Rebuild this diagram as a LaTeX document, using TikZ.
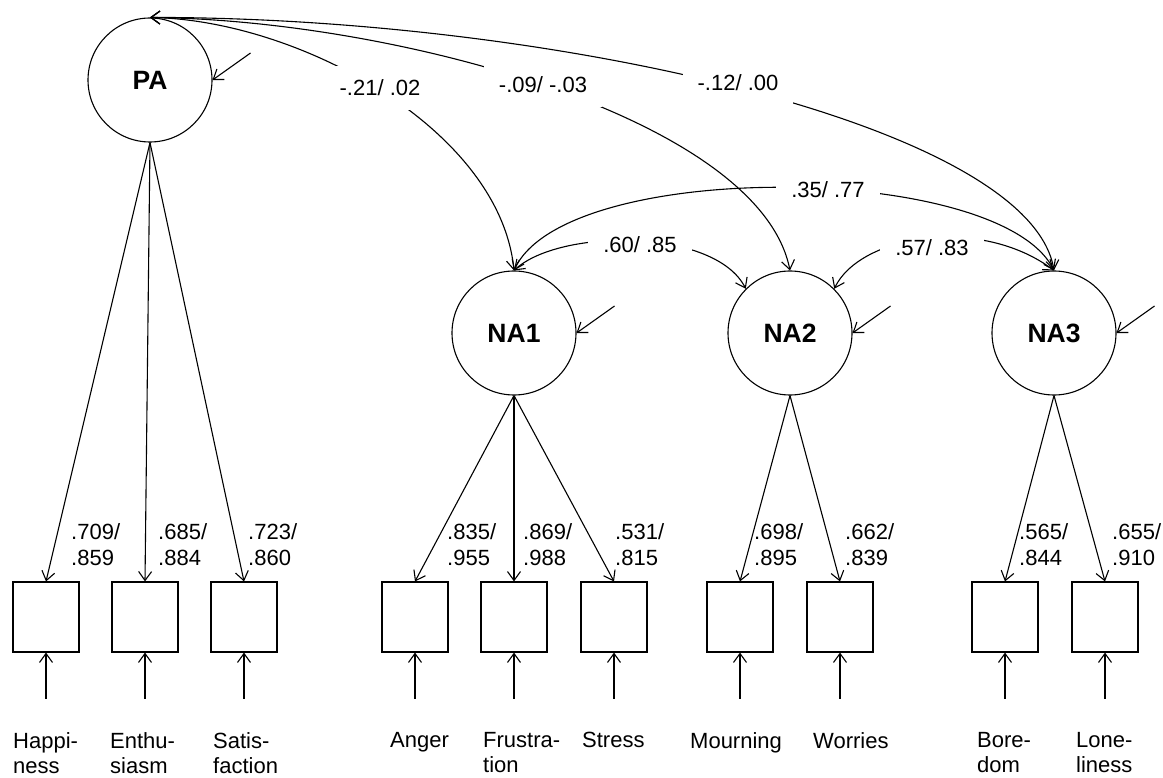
\documentclass[tikz,border=0pt]{standalone}
\usepackage{fontspec}
\setmainfont{Liberation Sans}
\usetikzlibrary{arrows.meta,calc}
\begin{document}
\begin{tikzpicture}[x=1pt,y=-1pt,
  lat/.style={circle,draw,line width=1.1pt,minimum size=124pt,inner sep=0pt,font=\bfseries\fontsize{26.5}{30}\selectfont},
  obs/.style={draw,line width=1.1pt,minimum width=66pt,minimum height=70pt,inner sep=0pt},
  con/.style={line width=1.1pt,-{Straight Barb[length=9pt,width=13pt]}},
  cov/.style={line width=1.1pt,{Straight Barb[length=9pt,width=13pt]}-{Straight Barb[length=9pt,width=13pt]}},
  covlbl/.style={fill=white,inner xsep=15pt,inner ysep=14pt,font=\fontsize{22}{26}\selectfont},
  ldlbl/.style={anchor=north west,inner sep=0pt,align=left,font=\fontsize{22}{26}\selectfont},
  itemlbl/.style={anchor=north west,inner sep=0pt,align=left,font=\fontsize{22}{25}\selectfont}
]
\useasboundingbox (0,0) rectangle (1163,778);

% latent variables
\node[lat] (PA) at (150,80) {PA};
\node[lat] (NA1) at (514,333) {NA1};
\node[lat] (NA2) at (790,333) {NA2};
\node[lat] (NA3) at (1054,333) {NA3};

% observed indicators
\node[obs] (hap) at (46,617) {};
\node[obs] (ent) at (145,617) {};
\node[obs] (sat) at (244,617) {};
\node[obs] (ang) at (415,617) {};
\node[obs] (fru) at (514,617) {};
\node[obs] (str) at (614,617) {};
\node[obs] (mou) at (740,617) {};
\node[obs] (wor) at (840,617) {};
\node[obs] (bor) at (1005,617) {};
\node[obs] (lon) at (1105,617) {};

% loadings
\draw[con] (PA.south) -- (hap.north);
\draw[con] (PA.south) -- (ent.north);
\draw[con] (PA.south) -- (sat.north);
\draw[con] (NA1.south) -- (ang.north);
\draw[con] (NA1.south) -- (fru.north);
\draw[con] (NA1.south) -- (str.north);
\draw[con] (NA2.south) -- (mou.north);
\draw[con] (NA2.south) -- (wor.north);
\draw[con] (NA3.south) -- (bor.north);
\draw[con] (NA3.south) -- (lon.north);

% loading labels
\node[ldlbl] (lhap) at (71,523) {.709/\\.859};
\node[ldlbl] (lent) at (158,523) {.685/\\.884};
\node[ldlbl] (lsat) at (248,523) {.723/\\.860};
\node[ldlbl] (lang) at (447,523) {.835/\\.955};
\node[ldlbl] (lfru) at (523,523) {.869/\\.988};
\node[ldlbl] (lstr) at (615,523) {.531/\\.815};
\node[ldlbl] (lmou) at (754,523) {.698/\\.895};
\node[ldlbl] (lwor) at (845,523) {.662/\\.839};
\node[ldlbl] (lbor) at (1019,523) {.565/\\.844};
\node[ldlbl] (llon) at (1112,523) {.655/\\.910};

% residuals of indicators
\foreach \b in {hap,ent,sat,ang,fru,str,mou,wor,bor,lon}{
  \coordinate (e\b) at ($(\b.south)+(0,46)$);
  \draw[con] (e\b) -- (\b.south);
}

% residuals of latents
\foreach \l in {PA,NA1,NA2,NA3}{
  \coordinate (r\l) at ($(\l.east)+(38,-27)$);
  \draw[con] (r\l) -- (\l.east);
}

% item names
\node[itemlbl] (thap) at (13,732) {Happi-\\ness};
\node[itemlbl] (tent) at (110,732) {Enthu-\\siasm};
\node[itemlbl] (tsat) at (213,732) {Satis-\\faction};
\node[itemlbl] (tang) at (390,732) {Anger};
\node[itemlbl] (tfru) at (483,732) {Frustra-\\tion};
\node[itemlbl] (tstr) at (582,732) {Stress};
\node[itemlbl] (tmou) at (690,732) {Mourning};
\node[itemlbl] (twor) at (813,732) {Worries};
\node[itemlbl] (tbor) at (977,732) {Bore-\\dom};
\node[itemlbl] (tlon) at (1076,732) {Lone-\\liness};

% covariances
\draw[cov] (PA.north) .. controls (300,20) and (500,130) .. (NA1.north);
\draw[cov] (PA.north) .. controls (400,20) and (760,120) .. (NA2.north);
\draw[cov] (PA.north) .. controls (550,17) and (1030,125) .. (NA3.north);
\draw[cov] (NA1.north) .. controls (565,158) and (1000,162) .. (NA3.north);
\draw[cov] (NA1.north) .. controls (560,228) and (715,228) .. (NA2.135);
\draw[cov] (NA2.45) .. controls (860,235) and (980,215) .. (NA3.north);

\node[covlbl] (c1) at (380,88) {-.21/ .02};
\node[covlbl] (c2) at (543,84.5) {-.09/ -.03};
\node[covlbl] (c3) at (738,82.5) {-.12/ .00};
\node[covlbl] (c4) at (828,189.5) {.35/ .77};
\node[covlbl,inner ysep=10pt] (c5) at (640,244.5) {.60/ .85};
\node[covlbl,inner ysep=10pt] (c6) at (932,247.5) {.57/ .83};
\end{tikzpicture}
\end{document}
